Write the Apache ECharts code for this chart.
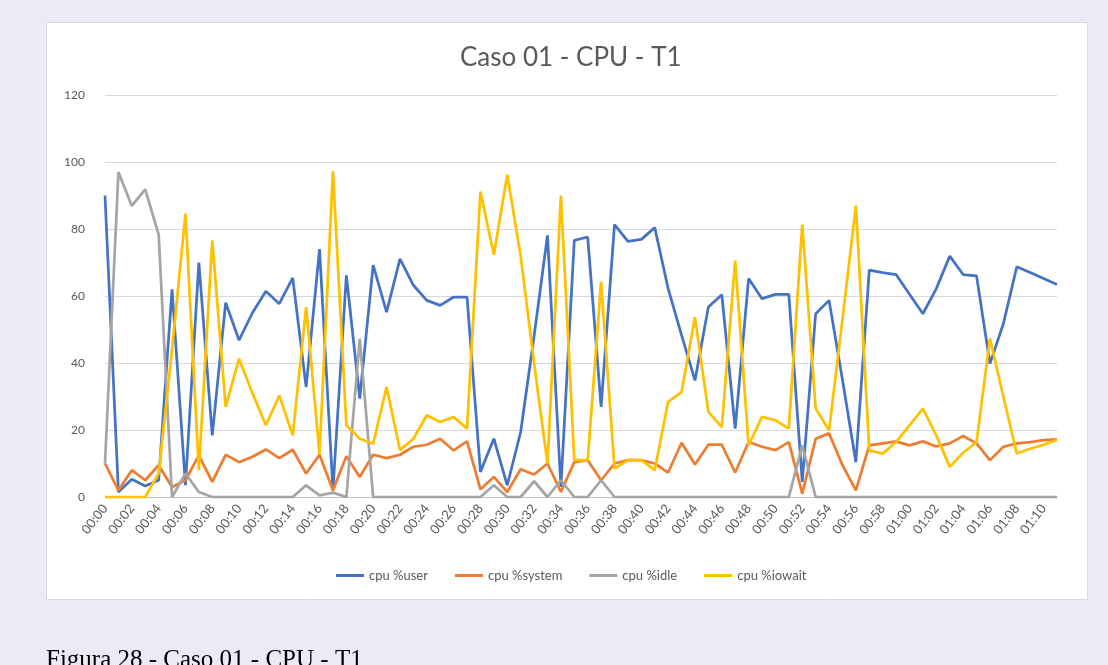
<!DOCTYPE html>
<html>
<head>
<meta charset="utf-8">
<script src="https://cdn.jsdelivr.net/npm/echarts@6/dist/echarts.min.js"></script>
<style>
html,body{margin:0;padding:0;background:#EBEBF8;}
#c{width:1108px;height:665px;}
</style>
</head>
<body>
<div id="c"></div>
<script>
const categories = ["00:00","00:01","00:02","00:03","00:04","00:05","00:06","00:07","00:08","00:09",
"00:10","00:11","00:12","00:13","00:14","00:15","00:16","00:17","00:18","00:19",
"00:20","00:21","00:22","00:23","00:24","00:25","00:26","00:27","00:28","00:29",
"00:30","00:31","00:32","00:33","00:34","00:35","00:36","00:37","00:38","00:39",
"00:40","00:41","00:42","00:43","00:44","00:45","00:46","00:47","00:48","00:49",
"00:50","00:51","00:52","00:53","00:54","00:55","00:56","00:57","00:58","00:59",
"01:00","01:01","01:02","01:03","01:04","01:05","01:06","01:07","01:08","01:09",
"01:10","01:11"];

const cpuUser = [90,1.5,5.3,3.3,5,62,3.5,70,18.4,58,
46.8,55,61.4,57.7,65.4,32.8,74,2,66.2,29.4,
69.2,55.2,71.1,63.2,58.7,57.2,59.7,59.7,7.5,17.4,
3.5,19.4,48,78.1,3,76.6,77.6,26.9,81.3,76.3,
76.9,80.4,62.2,48.3,34.8,56.7,60.4,20.4,65.2,59.2,
60.5,60.5,4.5,54.7,58.7,35,10.4,67.7,67,66.4,
60.5,54.7,62.2,71.9,66.4,66,39.8,51.7,68.7,67,
65.2,63.4];

const cpuSystem = [10,2,8,5,9.5,3,5,12.4,4.5,12.6,
10.4,12,14.2,11.6,14.1,7,12.6,2,12.2,6,
12.6,11.6,12.6,15,15.6,17.4,13.9,16.6,2.3,6,
1.5,8.3,6.7,10,1.5,10.4,11,5,10,11,
11,10,7.3,16.2,9.7,15.6,15.6,7.3,16.4,15,
14,16.4,1,17.4,19,9.5,2,15.4,16,16.6,
15.4,16.6,15.1,16,18.2,16,11,15,16,16.4,
17,17.2];

const cpuIdle = [10,97,86.9,91.8,78.3,0,7,1.5,0,0,
0,0,0,0,0,3.5,0.5,1.3,0,47.3,
0,0,0,0,0,0,0,0,0,3.5,
0,0,4.7,0,5,0,0,5,0,0,
0,0,0,0,0,0,0,0,0,0,
0,0,15.4,0,0,0,0,0,0,0,
0,0,0,0,0,0,0,0,0,0,
0,0];

const cpuIowait = [0,0,0,0,7,44,84.6,8,76.6,26.9,
41.3,31,21.4,30.3,18.4,56.7,12.9,97.2,21.4,17.4,
15.9,32.8,14,17.4,24.4,22.4,23.9,20.4,91.2,72.3,
96.2,72,40,10,90,11,11,64.2,8.5,11,
11,8,28.4,31.3,53.7,25.4,20.9,70.6,15.4,23.9,
22.9,20.4,81.3,26.4,19.9,53,87,13.9,12.9,16.4,
21.4,26.4,18.4,9,13.2,16.4,47.3,30,13,14.4,
15.6,17];

const yTicks = [0,20,40,60,80,100,120];
const seriesNames = ["cpu %user","cpu %system","cpu %idle","cpu %iowait"];
const seriesColors = ["#4472C4","#ED7D31","#A5A5A5","#FFC000"];
const seriesData = [cpuUser, cpuSystem, cpuIdle, cpuIowait];

const font = 'Lato,"Open Sans",sans-serif';
const chart = echarts.init(document.getElementById('c'));
chart.setOption({
  backgroundColor: '#EBEBF8',
  animation: false,
  graphic: [
    {type:'rect', shape:{x:46.5,y:22.5,width:1041,height:577}, style:{fill:'#FFFFFF', stroke:'#D9D9D9', lineWidth:1}, z:-10},
    {type:'text', left:46, top:648, style:{text:'Figura 28 - Caso 01 - CPU - T1', fill:'#000000', font:'25px "Liberation Serif", serif'}}
  ],
  title: {
    text: 'Caso 01 - CPU - T1', left: 455, top: 40,
    textStyle: {color:'#595959', fontSize:26, fontWeight:'normal', fontFamily:font}
  },
  legend: {
    bottom: 78, left: 331,
    itemWidth: 28, itemHeight: 3, itemGap: 27, icon: 'rect',
    textStyle: {color:'#595959', fontSize:13, fontFamily:font},
    data: seriesNames
  },
  grid: {left:105, right:51, top:95, bottom:168, containLabel:false},
  xAxis: {
    type:'category', data: categories, boundaryGap:false,
    axisLine:{lineStyle:{color:'#BFBFBF', width:1}},
    axisTick:{show:false},
    axisLabel:{rotate:52, interval:1, color:'#595959', fontSize:13, fontFamily:font, margin:9}
  },
  yAxis: {
    type:'value', min:0, max:120, interval:20,
    axisLine:{show:false}, axisTick:{show:false},
    splitLine:{lineStyle:{color:'#D9D9D9', width:1}},
    axisLabel:{color:'#595959', fontSize:12, fontFamily:font, margin:20,
      formatter: v => yTicks.includes(v) ? String(v) : ''}
  },
  series: seriesNames.map((n,i) => ({
    name:n, type:'line', data: seriesData[i], symbol:'none',
    lineStyle:{color:seriesColors[i], width:2.75},
    itemStyle:{color:seriesColors[i]}
  }))
});
</script>
</body>
</html>
